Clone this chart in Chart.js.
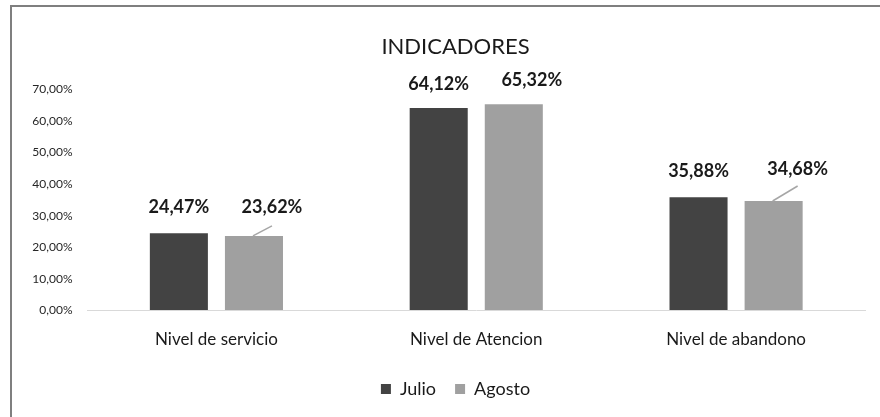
<!DOCTYPE html>
<html>
<head>
<meta charset="utf-8">
<script src="https://cdn.jsdelivr.net/npm/chart.js@4.4.1/dist/chart.umd.min.js"></script>
<style>
    body { margin: 0; background: #fff; }
    #wrap { position: relative; width: 880px; height: 417px; }
    #marco {
        position: absolute; left: 10px; top: 5px; width: 870px; height: 412px;
        border-left: 2px solid #7f7f7f; border-top: 2px solid #7f7f7f;
        pointer-events: none;
    }
</style>
</head>
<body>
<div id="wrap">
    <canvas id="indicadores" width="880" height="417"></canvas>
    <div id="marco"></div>
</div>
<script>
// datos del gráfico
const categorias = ['Nivel de servicio', 'Nivel de Atencion', 'Nivel de abandono'];
const julio = [24.47, 64.12, 35.88];
const agosto = [23.62, 65.32, 34.68];
const ticksY = [0, 10, 20, 30, 40, 50, 60, 70];

const fuente = 'Lato, "Open Sans", sans-serif';
const formato = v => v.toFixed(2).replace('.', ',') + '%';

// etiquetas de datos (con línea guía para Agosto)
const etiquetas = {
    id: 'etiquetas',
    afterDatasetsDraw(chart, args, opts) {
        const ctx = chart.ctx;
        ctx.save();
        ctx.font = 'bold 18px ' + fuente;
        ctx.fillStyle = '#1a1a1a';
        ctx.textAlign = 'center';
        ctx.textBaseline = 'bottom';
        chart.data.datasets.forEach((ds, i) => {
            const meta = chart.getDatasetMeta(i);
            meta.data.forEach((bar, j) => {
                const [dx, dy, guia] = opts.desplazamientos[i][j];
                const x = bar.x + dx;
                const y = bar.y - dy;
                if (guia) {
                    ctx.strokeStyle = '#a6a6a6';
                    ctx.lineWidth = 1.5;
                    ctx.beginPath();
                    ctx.moveTo(bar.x - 1, bar.y);
                    ctx.lineTo(x, y + guia);
                    ctx.stroke();
                }
                ctx.fillText(formato(ds.data[j]), x, y);
            });
        });
        ctx.restore();
    }
};

const ctx = document.getElementById('indicadores').getContext('2d');
new Chart(ctx, {
    type: 'bar',
    data: {
        labels: categorias,
        datasets: [
            { label: 'Julio', data: julio, backgroundColor: '#434343' },
            { label: 'Agosto', data: agosto, backgroundColor: '#a0a0a0' }
        ]
    },
    options: {
        responsive: false,
        animation: false,
        categoryPercentage: 0.578,
        barPercentage: 0.773,
        layout: { padding: { left: 45, right: 14, top: 0, bottom: 9 } },
        scales: {
            x: {
                grid: { display: false },
                border: { display: false },
                ticks: { color: '#1a1a1a', font: { family: fuente, size: 17 }, padding: 11 }
            },
            y: {
                min: 0,
                max: 70,
                afterBuildTicks: s => { s.ticks = ticksY.map(v => ({ value: v })); },
                afterFit: s => {
                    s.width = 41.5;
                    s._computeLabelArea = () => undefined; // no recortar las etiquetas
                },
                grid: {
                    drawTicks: false,
                    color: c => c.tick && c.tick.value === 0 ? '#d9d9d9' : 'rgba(0,0,0,0)'
                },
                border: { display: false },
                ticks: {
                    padding: 14,
                    color: '#262626',
                    font: { family: fuente, size: 12 },
                    callback: v => formato(v)
                }
            }
        },
        plugins: {
            title: {
                display: true,
                text: 'INDICADORES',
                color: '#1a1a1a',
                font: { family: fuente, size: 22, weight: 'normal' },
                padding: { top: 34, bottom: 29 }
            },
            legend: {
                position: 'bottom',
                labels: {
                    color: '#1a1a1a',
                    font: { family: fuente, size: 18 },
                    boxWidth: 10,
                    boxHeight: 10,
                    padding: 19
                }
            },
            tooltip: { enabled: false },
            etiquetas: {
                desplazamientos: [
                    [[0, 17, 0], [0, 15, 0], [0, 17, 0]],
                    [[18, 20, 10], [18, 15, 0], [24, 23, 8]]
                ]
            }
        }
    },
    plugins: [etiquetas]
});
</script>
</body>
</html>
